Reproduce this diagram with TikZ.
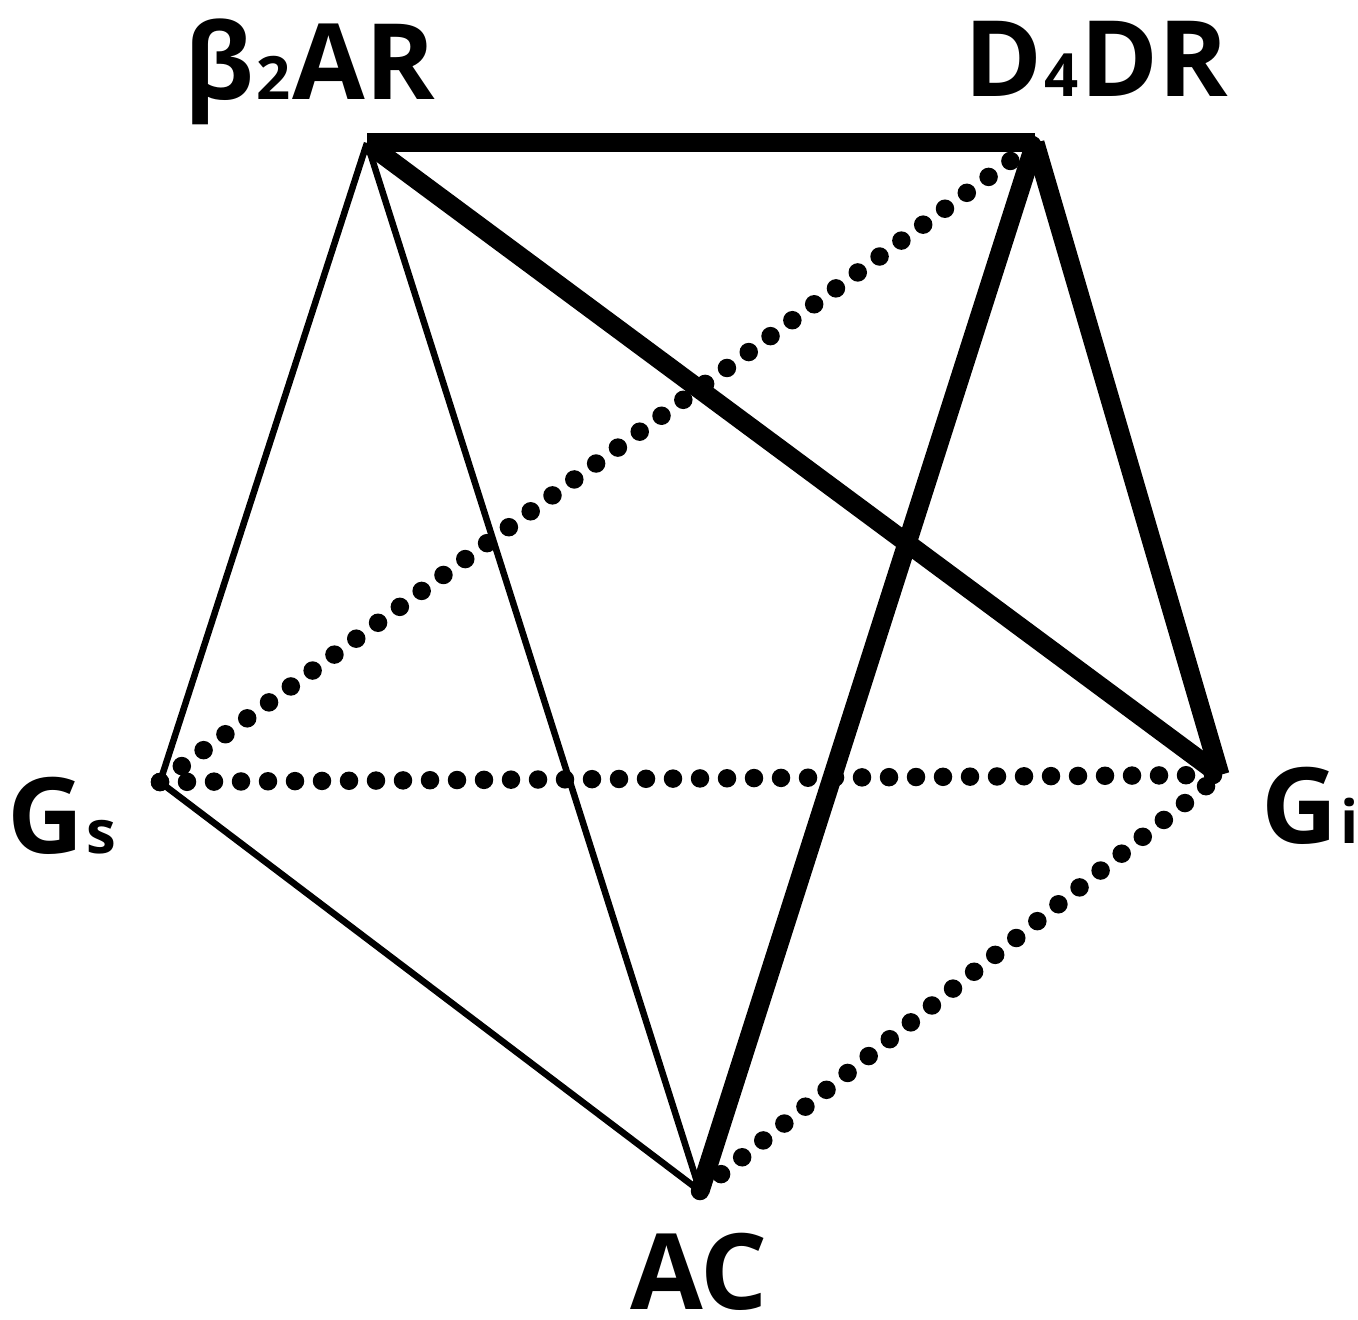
\documentclass[tikz,border=0pt]{standalone}
\usepackage{fontspec}
\setmainfont{Open Sans}

\tikzset{
strong/.style={line width=0.19cm},
weak/.style={line width=0.065cm},
dotline/.style={line width=0.185cm, line cap=round, dash pattern=on 0pt off 0.27cm},
lbl/.style={anchor=base, inner sep=0pt, text depth=0pt, font=\fontsize{30}{34}\selectfont\bfseries},
}
\newcommand{\sm}[1]{{\fontsize{17}{20}\selectfont\kern0.02cm #1\kern0.02cm}}

\begin{document}
\begin{tikzpicture}
\useasboundingbox (0,0) rectangle (13.58,13.19);

% Vertices
\coordinate (b2ar) at (3.67,11.76);
\coordinate (d4dr) at (10.35,11.76);
\coordinate (gs) at (1.60,5.37);
\coordinate (gi) at (12.20,5.44);
\coordinate (ac) at (7.00,1.28);

% Draw the dotted edges
\foreach \a/\b in {gs/d4dr, gs/gi, ac/gi}
\draw[dotline] (\a) -- (\b);

% Draw the thin edges
\foreach \a/\b in {b2ar/gs, b2ar/ac, gs/ac}
\draw[weak] (\a) -- (\b);

% Draw the thick edges
\foreach \a/\b in {b2ar/d4dr, b2ar/gi, d4dr/ac, d4dr/gi}
\draw[strong] (\a) -- (\b);

% Labels
\node[lbl] (b2ar-label) at (3.10,12.19) {β\sm{2}AR};
\node[lbl] (d4dr-label) at (10.96,12.22) {D\sm{4}DR};
\node[lbl] (gs-label) at (0.63,4.66) {G\sm{s}};
\node[lbl] (gi-label) at (13.11,4.76) {G\sm{i}};
\node[lbl] (ac-label) at (6.99,0.1) {AC};

\end{tikzpicture}
\end{document}
